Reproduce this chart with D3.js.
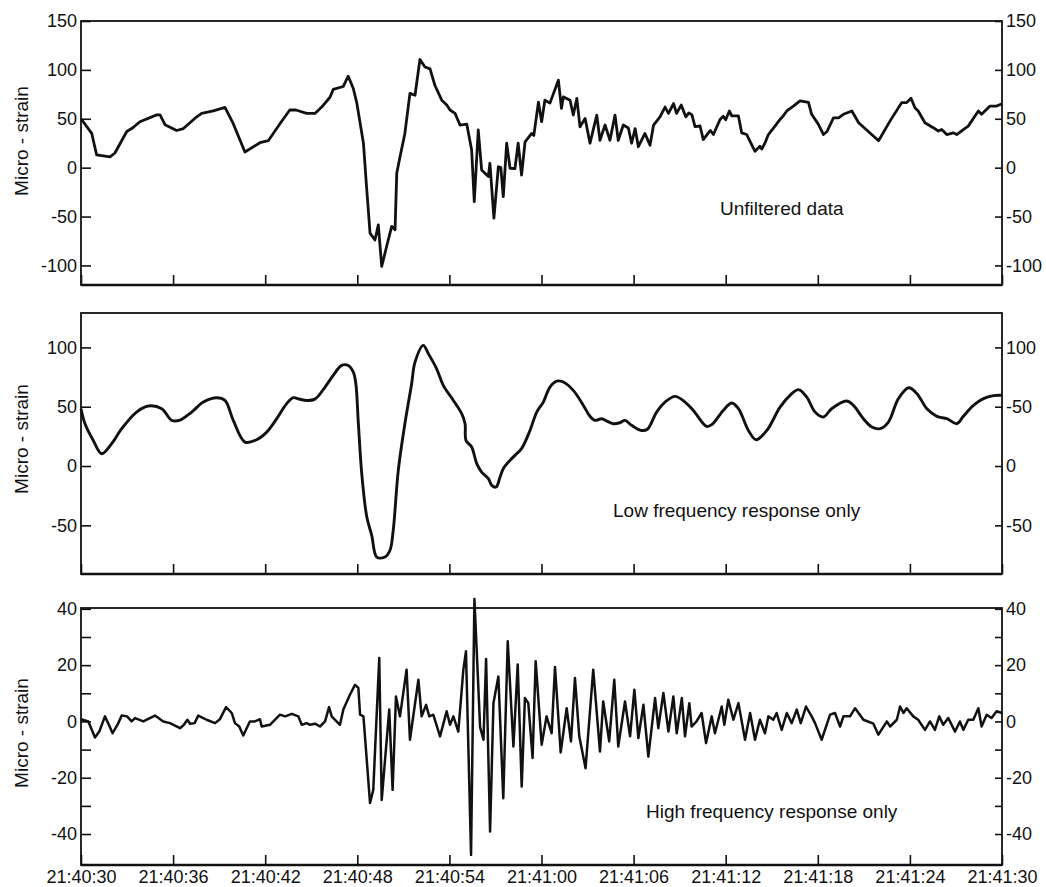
<!DOCTYPE html>
<html>
<head>
<meta charset="utf-8">
<script src="https://cdn.jsdelivr.net/npm/d3@7/dist/d3.min.js"></script>
<style>
body { margin: 0; background: #fff; }
text { font-family: "Liberation Sans", Arial, Helvetica, sans-serif; fill: #111; }
</style>
</head>
<body>
<div id="chart"></div>
<script>
// [seconds after 21:40:30, micro-strain]
var unfiltered = [[0,50],[0.7,35],[1.02,13],[1.89,11],[2.21,15],[2.98,37],[3.3,40],[3.84,47],[4.93,54],[5.15,54],[5.47,44],[6.23,38],[6.67,40],[7.54,52],[7.86,55.5],[8.62,58],[9.38,61.6],[9.92,45],[10.68,16],[11.66,25.5],[12.2,27.6],[12.96,45],[13.6,59],[14.0,59],[14.7,55.5],[15.24,55.5],[15.68,62],[16.22,72],[16.43,80],[17.08,83],[17.41,93.5],[17.74,81],[17.97,66],[18.4,25],[18.6,-19],[18.83,-67],[19.15,-74],[19.37,-58.5],[19.59,-101],[19.91,-80.6],[20.24,-60],[20.46,-63.5],[20.57,-5.8],[20.78,11],[21.1,35],[21.43,76],[21.76,74],[22.08,110.6],[22.41,103],[22.74,101],[23.06,84],[23.5,69],[23.83,64],[24.04,59],[24.37,55.5],[24.69,43.6],[25.13,44.6],[25.45,18],[25.62,-34.7],[25.88,38.5],[26.1,-2.3],[26.54,-9],[26.64,4.5],[26.9,-51.7],[27.19,1],[27.35,0],[27.51,-29.6],[27.73,25],[27.95,-0.6],[28.27,-1],[28.48,25],[28.7,-7.5],[28.93,26.5],[29.36,35],[29.5,33],[29.8,67],[30.01,47],[30.22,69],[30.55,66],[31.1,89.5],[31.3,60.6],[31.42,72.4],[31.86,69],[32.07,53.8],[32.3,70.8],[32.51,41.8],[32.84,50.4],[33.16,25],[33.6,53.8],[33.81,28],[34.14,43.6],[34.46,28],[34.79,53.8],[35.0,28],[35.33,43.6],[35.66,40.6],[35.87,25],[36.1,40],[36.31,21.4],[36.74,35],[37.07,23],[37.3,43.6],[37.72,52],[38.05,62],[38.27,55.5],[38.6,65.6],[38.8,55.5],[39.1,64],[39.4,52],[39.6,56],[39.8,54],[40.0,42],[40.33,42.6],[40.54,28.7],[40.87,35.6],[41.0,38],[41.2,33.9],[41.63,49.3],[41.84,52.5],[42.0,49],[42.24,58],[42.39,52.9],[42.83,52.9],[43.04,35.6],[43.37,33.9],[43.69,23.5],[43.91,16.7],[44.23,21.8],[44.35,19],[44.56,25.3],[44.78,33.9],[45.21,42.5],[45.54,49.3],[45.7,52],[45.98,58],[46.41,63],[46.84,68.4],[47.39,66.7],[47.6,54.6],[48.04,44.3],[48.37,33.9],[48.6,37],[49.02,51],[49.35,51],[49.67,54.6],[50.22,58],[50.66,46],[51.96,27.6],[52.7,47.6],[53.46,66.5],[53.79,66.5],[54.07,71],[54.33,61.3],[54.54,58],[54.98,46],[55.52,40.9],[55.85,37.5],[56.07,39],[56.4,33.9],[56.83,35.6],[57.05,33.9],[57.48,39],[57.8,42.5],[58.46,58],[58.67,54.6],[59.22,63],[59.65,63],[60,65.4]];

var lowFreq = [[0,48.3],[0.26,35.7],[0.8,21.6],[1.35,10.4],[2.0,18.9],[2.65,31.5],[3.62,45.5],[4.39,50.6],[5.26,48.3],[5.91,38.5],[6.45,38.7],[7.21,45.5],[7.97,53.9],[8.84,57.6],[9.38,55.3],[9.92,38.5],[10.68,20.2],[11.44,22.2],[12.1,28.6],[12.75,39.9],[13.4,52.6],[13.83,57.6],[14.2,56.5],[14.7,55.3],[15.24,56.4],[15.9,66.6],[16.43,76.4],[16.98,84.8],[17.41,84.8],[17.74,79.2],[17.9,70],[18.07,35.7],[18.29,-6.4],[18.62,-43],[18.94,-58.4],[19.27,-76.7],[19.8,-76.7],[20.13,-71],[20.34,-54.2],[20.67,-3.6],[21.1,35.7],[21.54,69.4],[21.76,87.6],[22.3,101.7],[22.63,94.7],[23.17,82],[23.6,68],[24.26,55.3],[24.8,44.1],[25.02,35.7],[25.08,21.6],[25.45,16],[25.78,2],[26.1,-5.1],[26.54,-10.6],[26.76,-16.3],[27.04,-17.7],[27.3,-9.3],[27.51,-2.2],[27.95,4.8],[28.27,9],[28.7,14.7],[29.25,30],[29.69,45.5],[30.12,53.9],[30.55,66.6],[30.99,71.6],[31.42,70.8],[32.07,63.8],[32.73,51.1],[33.16,41.9],[33.49,38.5],[33.92,39.9],[34.25,37.9],[34.68,35.7],[35.1,36.5],[35.44,38.5],[35.87,34.3],[36.52,30],[36.9,31],[37.5,45.5],[38.05,53.9],[38.7,58.7],[39.35,53.9],[39.89,46.9],[40.76,33.4],[41.1,35],[41.84,46.9],[42.39,53.1],[42.83,48.3],[43.48,30],[43.98,22.2],[44.68,30],[45.54,49.7],[46.19,59.6],[46.74,64.4],[47.28,58.1],[47.82,45.5],[48.36,41.3],[48.9,48.3],[49.88,54.8],[50.32,51.1],[50.97,39.9],[51.52,32.9],[52.06,31.5],[52.6,37.1],[53.25,56.8],[53.92,66],[54.46,61],[55.11,48.3],[55.76,41.9],[56.41,39.9],[57.06,35.7],[57.48,41.9],[58.14,51.1],[58.79,56.8],[59.44,59.3],[60,59.6]];

var highFreq = [[0,0.8],[0.48,0],[0.91,-5.7],[1.2,-3.5],[1.56,1.8],[1.8,-1],[2.06,-4.2],[2.43,-0.6],[2.65,2.1],[3.0,1.8],[3.3,0],[3.52,1.2],[4.06,0],[4.82,2.1],[5.36,0],[5.8,-0.6],[6.45,-2.4],[6.7,-1.2],[6.93,0.6],[7.1,-0.8],[7.4,-0.6],[7.64,2.1],[8.18,0.6],[8.73,-0.6],[9.05,0.8],[9.45,5.1],[9.82,3],[10.03,-0.6],[10.31,-1.8],[10.57,-5],[11.0,0],[11.33,0],[11.66,0.8],[11.77,-1.8],[12.31,-1.2],[12.96,2.4],[13.3,1.8],[13.73,2.7],[14.16,1.8],[14.38,-1.2],[14.7,-0.6],[14.92,-1.2],[15.25,-0.8],[15.57,-1.8],[15.9,0],[16.16,5.1],[16.33,1.8],[16.87,-1.2],[17.09,4.2],[17.52,9.5],[17.85,13],[18.07,11.9],[18.18,2.4],[18.4,1.8],[18.83,-29],[19.04,-24.3],[19.43,22.5],[19.59,-27.9],[20.08,4.2],[20.3,-24.3],[20.52,8.9],[20.78,1.8],[21.21,18.4],[21.43,-6.5],[21.98,14.8],[22.19,1.8],[22.48,5.9],[22.69,1.8],[22.95,2.4],[23.39,-5.3],[23.82,3.6],[24.04,-1.2],[24.26,1.8],[24.58,-3.6],[24.91,18.4],[25.08,24.9],[25.41,-47.4],[25.63,43.5],[26.0,-2],[26.22,-6.5],[26.39,22.2],[26.65,-39.1],[26.87,6.5],[27.19,16],[27.51,-27.3],[27.8,28.5],[28.17,-8.9],[28.45,20.2],[28.71,-23.1],[28.92,8.3],[29.14,6.5],[29.42,-13],[29.62,21.4],[30.01,-8.3],[30.33,1.8],[30.66,-4.2],[30.88,19.3],[31.25,-11],[31.64,4.7],[31.92,-7.1],[32.18,15.4],[32.46,-5.3],[32.87,-16.6],[33.37,18.4],[33.81,-10.7],[34.02,7.1],[34.41,-7.1],[34.74,14.8],[35.0,-8.9],[35.44,7.1],[35.77,-5.3],[36.05,11.3],[36.31,-5.9],[36.64,5.9],[36.96,-12.5],[37.4,8.3],[37.61,-2.4],[37.94,10.1],[38.27,-3.6],[38.59,8.9],[38.81,-4.2],[39.14,8.3],[39.35,-5.3],[39.63,6.5],[39.78,-1.8],[40.1,0],[40.43,3],[40.72,-7.7],[41.09,1.8],[41.3,-4.2],[41.74,5.3],[41.91,-1.2],[42.17,7.7],[42.5,0.6],[42.83,6.5],[43.26,-6.5],[43.59,3],[43.91,-6.5],[44.23,0.6],[44.56,-4.2],[44.78,1.8],[45.1,0.6],[45.32,3],[45.65,-3],[45.98,3],[46.3,-0.6],[46.63,4.2],[46.89,-0.6],[47.23,5.3],[47.6,1.8],[47.82,-0.6],[48.25,-6.5],[48.8,2.4],[49.12,3],[49.45,-1.8],[49.67,1.8],[50.1,1.8],[50.43,4.7],[50.97,0.6],[51.62,-0.8],[51.95,-4.7],[52.5,0],[52.71,-1.8],[53.15,0.6],[53.36,5.3],[53.58,3],[53.79,4.7],[54.22,1.8],[54.54,0.6],[54.98,-3],[55.31,0],[55.63,-3],[55.91,1.8],[56.17,-1.2],[56.5,1.2],[56.94,-3.6],[57.26,0],[57.48,-3],[57.8,0.6],[58.13,0.6],[58.46,4.7],[58.67,-1.8],[59.0,2.4],[59.32,1.2],[59.65,3.6],[60,3]];

var xTickSeconds = [0, 6, 12, 18, 24, 30, 36, 42, 48, 54, 60];
var xTickLabels = ["21:40:30", "21:40:36", "21:40:42", "21:40:48", "21:40:54", "21:41:00", "21:41:06", "21:41:12", "21:41:18", "21:41:24", "21:41:30"];
var topTicks = [150, 100, 50, 0, -50, -100];
var midTicks = [100, 50, 0, -50];
var midRightLabels = ["100", "-50", "0", "-50"];
var lowTicks = [40, 30, 20, 10, 0, -10, -20, -30, -40];
var notes = ["Unfiltered data", "Low frequency response only", "High frequency response only"];
var yTitle = "Micro - strain";

var svgWidth = 1046;
var svgHeight = 887;
var plotLeft = 81;
var plotRight = 1002;

var svg = d3.select("#chart").append("svg")
    .attr("width", svgWidth)
    .attr("height", svgHeight);

var xScale = d3.scaleLinear().domain([0, 60]).range([plotLeft, plotRight]);

var panels = [
    {data: unfiltered, top: 21, bottom: 285, domain: [-120, 150], ticks: topTicks,
     leftFmt: function (d) { return d; }, rightFmt: function (d) { return d; },
     curve: d3.curveLinear, width: 2.8, note: notes[0], noteX: 720, noteY: 215, titleY: 141},
    {data: lowFreq, top: 313, bottom: 574, domain: [-91, 129], ticks: midTicks,
     leftFmt: function (d) { return d; }, rightFmt: function (d, i) { return midRightLabels[i]; },
     curve: d3.curveCatmullRom.alpha(0.5), width: 2.9, note: notes[1], noteX: 613, noteY: 517, titleY: 439},
    {data: highFreq, top: 608, bottom: 865, domain: [-51, 40.3], ticks: lowTicks,
     leftFmt: function (d) { return d % 20 === 0 ? d : ""; }, rightFmt: function (d) { return d % 20 === 0 ? d : ""; },
     curve: d3.curveLinear, width: 2.5, note: notes[2], noteX: 646, noteY: 818, titleY: 733}
];

panels.forEach(function (p, idx) {
    var yScale = d3.scaleLinear().domain(p.domain).range([p.bottom, p.top]);
    var g = svg.append("g");

    // frame, heavier along the bottom
    g.append("rect")
        .attr("x", plotLeft).attr("y", p.top)
        .attr("width", plotRight - plotLeft).attr("height", p.bottom - p.top)
        .attr("fill", "none").attr("stroke", "#111").attr("stroke-width", 1.8);
    g.append("line")
        .attr("x1", plotLeft).attr("x2", plotRight)
        .attr("y1", p.bottom).attr("y2", p.bottom)
        .attr("stroke", "#111").attr("stroke-width", 2.6);

    var leftAxis = d3.axisLeft(yScale).tickValues(p.ticks).tickSize(-10).tickPadding(4)
        .tickFormat(p.leftFmt);
    var rightAxis = d3.axisRight(yScale).tickValues(p.ticks).tickSize(-7).tickPadding(4)
        .tickFormat(p.rightFmt);
    var bottomAxis = d3.axisBottom(xScale).tickValues(xTickSeconds).tickSize(-10).tickPadding(5)
        .tickFormat(function (d, i) { return idx === 2 ? xTickLabels[i] : ""; });

    g.append("g").attr("transform", `translate(${plotLeft},0)`).call(leftAxis);
    g.append("g").attr("transform", `translate(${plotRight},0)`).call(rightAxis);
    g.append("g").attr("transform", `translate(0,${p.bottom})`).call(bottomAxis);

    g.selectAll(".domain").remove();
    g.selectAll(".tick line").attr("stroke", "#111").attr("stroke-width", 1.6);
    g.selectAll(".tick text")
        .style("font-family", '"Liberation Sans", Arial, sans-serif')
        .style("font-size", "18px")
        .attr("fill", "#111");

    var line = d3.line()
        .x(function (d) { return xScale(d[0]); })
        .y(function (d) { return yScale(d[1]); })
        .curve(p.curve);

    g.append("path")
        .datum(p.data)
        .attr("d", line)
        .attr("fill", "none")
        .attr("stroke", "#111")
        .attr("stroke-width", p.width)
        .attr("stroke-linejoin", "round");

    g.append("text")
        .attr("x", p.noteX).attr("y", p.noteY)
        .style("font-size", "19px")
        .text(p.note);

    g.append("text")
        .attr("transform", `translate(28,${p.titleY})rotate(-90)`)
        .attr("text-anchor", "middle")
        .style("font-size", "19px")
        .text(yTitle);
});
</script>
</body>
</html>
